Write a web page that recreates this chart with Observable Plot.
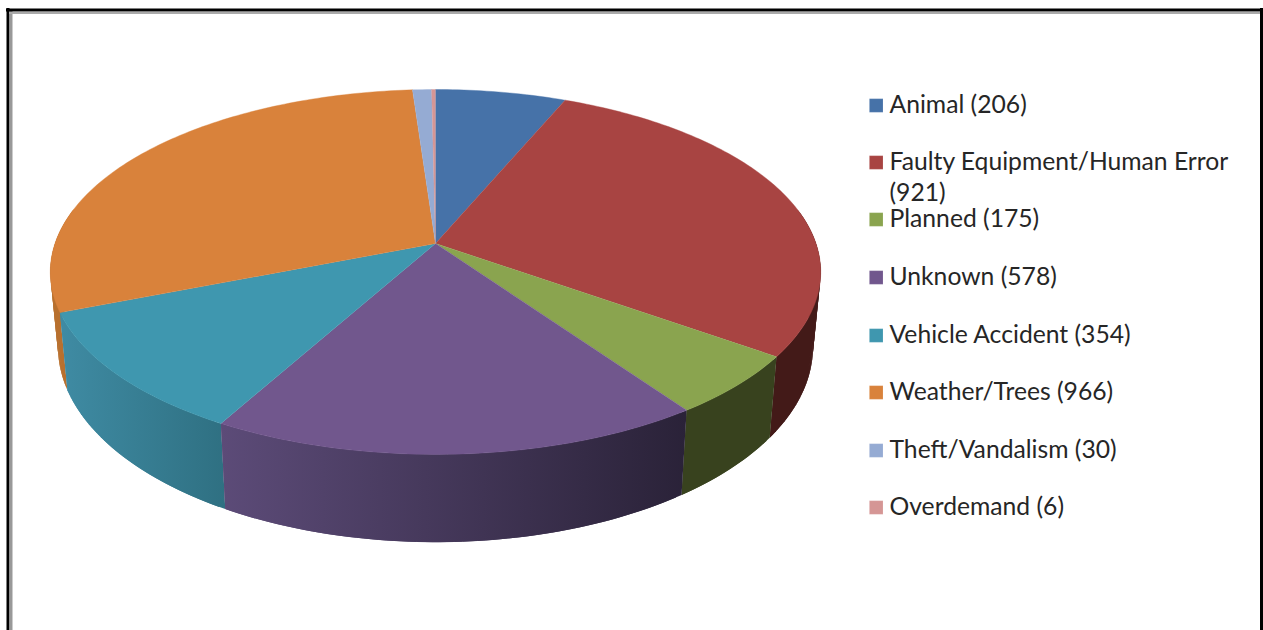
<!DOCTYPE html>
<html><head><meta charset="utf-8">
<script src="https://cdn.jsdelivr.net/npm/d3@7"></script>
<script src="https://cdn.jsdelivr.net/npm/@observablehq/plot@0.6"></script>
<style>html,body{margin:0;padding:0;background:#fff;overflow:hidden}svg{display:block}</style>
</head><body><div id="chart"></div>
<script>
const categories = ["Animal","Faulty Equipment/Human Error","Planned","Unknown","Vehicle Accident","Weather/Trees","Theft/Vandalism","Overdemand"];
const values = [206,921,175,578,354,966,30,6];
const topColors = ["#4672a8","#a84442","#8aa44f","#71578d","#3f97af","#d9823b","#95abd3","#d59695"];
const wallLeft  = ["#2c4a70","#431a18","#38421e","#5c4b78","#3f8ba3","#b8702e","#6a7a98","#8a6060"];
const wallRight = ["#2c4a70","#431a18","#38421e","#2a2238","#2f7082","#b8702e","#6a7a98","#8a6060"];
const legendY = [105,162,219,277,335,392,450,507];

// Tilted-disc camera (perspective of a unit circle onto the page)
const cam = {cx:435, cy:243, a:380.5, b:178, k:0.156, bottomCy:316, bottomSx:0.98, bottomSy:1.07};
const rad = d => d*Math.PI/180;
function topPt(t){const u=Math.sin(t),v=Math.cos(t),d=1+cam.k*v;return [cam.cx+cam.a*u/d, cam.cy-cam.b*v/d];}
function botPt(t){const u=Math.sin(t),v=Math.cos(t),d=1+cam.k*v;return [cam.cx+cam.bottomSx*cam.a*u/d, cam.bottomCy-cam.bottomSy*cam.b*v/d];}

const pie = d3.pie().sort(null)(values);
const topRows=[], wallSets=[];
pie.forEach((p,i)=>{
  const n=Math.max(2,Math.ceil((p.endAngle-p.startAngle)/rad(1)));
  const angles=d3.range(n+1).map(j=>p.startAngle+(p.endAngle-p.startAngle)*j/n);
  [[cam.cx,cam.cy],...angles.map(topPt)].forEach(q=>topRows.push({x:q[0],y:q[1],z:categories[i],f:topColors[i]}));
  const vis=angles.filter(t=>Math.cos(t)<0.2);
  if(vis.length>1){
    // each quad overlaps the next one, so no seams show between them
    const rows=[];
    d3.range(vis.length-1).forEach(j=>{
      const t0=vis[j], t1=vis[Math.min(j+2,vis.length-1)];
      [topPt(t0),topPt(t1),botPt(t1),botPt(t0)].forEach(q=>rows.push({x:q[0],y:q[1],z:j,o:-Math.cos((t0+t1)/2)}));
    });
    const groups=d3.groups(rows,d=>d.z).sort((a,b)=>a[1][0].o-b[1][0].o).flatMap(g=>g[1]);
    wallSets.push({i,rows:groups,depth:d3.mean(vis,t=>-Math.cos(t)),x0:d3.min(rows,d=>d.x),x1:d3.max(rows,d=>d.x)});
  }
});
wallSets.sort((a,b)=>a.depth-b.depth);

const legendRows=categories.map((c,i)=>({c,v:values[i],y:legendY[i],f:topColors[i]}));
const labelRows=legendRows.flatMap(d=>d.c.startsWith("Faulty")
  ?[{t:d.c,y:d.y},{t:`(${d.v})`,y:d.y+31}]
  :[{t:`${d.c} (${d.v})`,y:d.y}]);

const gradients=()=>{
  const defs=d3.create("svg:defs");
  wallSets.forEach(w=>{
    const g=defs.append("linearGradient").attr("id","wall"+w.i).attr("gradientUnits","userSpaceOnUse")
      .attr("x1",w.x0).attr("x2",w.x1).attr("y1",0).attr("y2",0);
    g.append("stop").attr("offset",0).attr("stop-color",wallLeft[w.i]);
    g.append("stop").attr("offset",1).attr("stop-color",wallRight[w.i]);
  });
  return defs.node();
};

const chart=Plot.plot({
  width:1263,height:630,margin:0,
  x:{domain:[0,1263],range:[0,1263],axis:null},
  y:{domain:[0,630],range:[0,630],axis:null},
  marks:[
    gradients,
    Plot.ruleX([7.5],{y1:8,y2:630,stroke:"#000",strokeWidth:3}),
    Plot.ruleX([10.5],{y1:11,y2:630,stroke:"#999",strokeWidth:3}),
    Plot.ruleX([1261],{y1:8,y2:630,stroke:"#000",strokeWidth:3}),
    Plot.ruleY([9.5],{x1:6,x2:1263,stroke:"#000",strokeWidth:3}),
    Plot.ruleY([12.5],{x1:9,x2:1260,stroke:"#aaa",strokeWidth:2}),
    ...wallSets.map(w=>Plot.line(w.rows,{x:"x",y:"y",z:"z",fill:`url(#wall${w.i})`,stroke:"none",curve:"linear"})),
    Plot.line(topRows,{x:"x",y:"y",z:"z",fill:"f",stroke:"f",strokeWidth:0.4,curve:"linear"}),
    Plot.dot(legendRows,{x:()=>875.7,y:"y",symbol:"square",r:7.7,fill:"f",stroke:"#fff",strokeOpacity:0.3,strokeWidth:0.5}),
    Plot.text(labelRows,{x:()=>889,y:"y",text:"t",textAnchor:"start",fontFamily:"Lato",fontSize:24.7,fill:"#262626",lineAnchor:"middle"})
  ]
});
document.getElementById("chart").append(chart);
</script></body></html>
